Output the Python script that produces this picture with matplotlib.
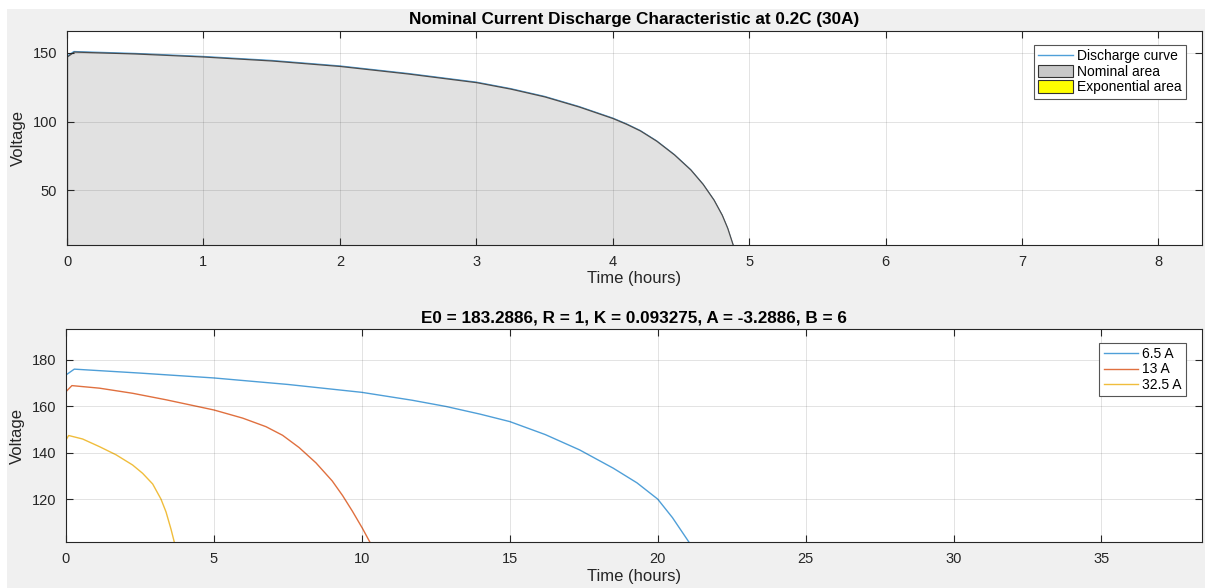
import matplotlib
matplotlib.use("Agg")
import matplotlib.pyplot as plt
from matplotlib.patches import Patch, Rectangle
from matplotlib.lines import Line2D

plt.rcParams['font.family'] = ['Liberation Sans', 'DejaVu Sans']

# top panel: nominal discharge at 0.2C (30A)
top_t = [0, 0.05, 0.5, 1.0, 1.5, 2.0, 2.5, 3.0, 3.25, 3.5, 3.75, 4.0, 4.1, 4.2, 4.32,
         4.45, 4.57, 4.66, 4.74, 4.8, 4.84, 4.88, 4.91]
top_v = [147.5, 151.0, 149.6, 147.4, 144.5, 140.5, 135.0, 128.7, 124.0, 118.3, 111.0,
         102.5, 98.3, 93.5, 86.0, 76.0, 65.0, 54.5, 43.0, 32.0, 22.5, 10.3, 3.0]
nominal_end = 4.88

# bottom panel: discharge at several currents
cur_labels = ['6.5 A', '13 A', '32.5 A']
blue_t = [0, 0.28, 2.5, 5, 7.5, 10, 11.7, 12.85, 14, 15, 16.2, 17.36, 18.5, 19.3, 20,
          20.5, 21.05]
blue_v = [173.5, 176.0, 174.3, 172.2, 169.4, 166.0, 162.6, 159.9, 156.6, 153.4, 147.8,
          141.2, 133.3, 127.0, 120.0, 112.0, 101.6]
red_t = [0, 0.2, 1.13, 2.25, 3.38, 5, 5.97, 6.76, 7.32, 7.88, 8.45, 9.0, 9.35, 9.68,
         10.02, 10.27]
red_v = [166.3, 168.9, 167.8, 165.6, 162.8, 158.4, 154.9, 151.2, 147.5, 142.2, 135.6,
         127.8, 121.5, 114.8, 107.4, 101.5]
yel_t = [0, 0.09, 0.56, 1.13, 1.69, 2.25, 2.59, 2.93, 3.21, 3.38, 3.55, 3.66]
yel_v = [145.5, 147.4, 145.9, 142.6, 139.1, 134.7, 131.1, 126.5, 120.0, 114.5, 107.0, 101.5]

c_blue = '#4f9fd8'
c_red = '#e0703f'
c_yel = '#f0bd3c'
ink = '#262626'

W, H = 1205, 588
fig = plt.figure(figsize=(W / 100, H / 100), dpi=100, facecolor='white')
fig.patches.append(Rectangle((7 / W, 0), 1, 1 - 9 / H, transform=fig.transFigure,
                             facecolor='#f0f0f0', edgecolor='none', zorder=-10))

ax1 = fig.add_axes([67 / W, (H - 245) / H, (1202 - 67) / W, 214 / H])
ax2 = fig.add_axes([66 / W, (H - 542) / H, (1202 - 66) / W, 213 / H])


def style(ax):
    ax.set_facecolor('white')
    for s in ax.spines.values():
        s.set_color(ink)
        s.set_linewidth(0.8)
    ax.tick_params(direction='in', length=5, width=0.8, colors=ink, labelsize=10.5,
                   top=True, right=True, pad=7)
    ax.grid(True, color=ink, alpha=0.15, linewidth=0.6)
    ax.set_axisbelow(False)


# top
style(ax1)
ax1.plot(top_t, top_v, color=c_blue, lw=1.0, zorder=1)
n = sum(1 for t in top_t if t <= nominal_end)
ax1.fill_between(top_t[:n], top_v[:n], 0, facecolor='#e1e1e1', edgecolor='#4d4d4d',
                 linewidth=0.9, zorder=2)
ax1.set_xlim(0, 8.32)
ax1.set_ylim(10, 166)
ax1.set_xticks(range(0, 9))
ax1.set_yticks([50, 100, 150])
ax1.set_xlabel('Time (hours)', fontsize=12, color=ink, labelpad=2)
ax1.set_ylabel('Voltage', fontsize=12, color=ink, labelpad=5)
ax1.set_title('Nominal Current Discharge Characteristic at 0.2C (30A)',
              fontsize=12.3, fontweight='bold', color='black', pad=5)
h1 = [Line2D([], [], color=c_blue, lw=1.0),
      Patch(facecolor='#c8c8c8', edgecolor='#333333', lw=0.8),
      Patch(facecolor='#ffff00', edgecolor='#333333', lw=0.8)]
leg1 = ax1.legend(h1, ['Discharge curve', 'Nominal area', 'Exponential area'],
                  loc='upper right', bbox_to_anchor=(0.986, 0.935), borderaxespad=0,
                  fontsize=10, fancybox=False, framealpha=1, edgecolor='#555555',
                  handlelength=2.5, handleheight=1.0, handletextpad=0.3,
                  labelspacing=0.12, borderpad=0.3)
leg1.get_frame().set_linewidth(0.8)

# bottom
style(ax2)
ax2.plot(blue_t, blue_v, color=c_blue, lw=1.0, label=cur_labels[0])
ax2.plot(red_t, red_v, color=c_red, lw=1.0, label=cur_labels[1])
ax2.plot(yel_t, yel_v, color=c_yel, lw=1.0, label=cur_labels[2])
ax2.set_xlim(0, 38.4)
ax2.set_ylim(101.5, 193.3)
ax2.set_xticks(range(0, 36, 5))
ax2.set_yticks([120, 140, 160, 180])
ax2.set_xlabel('Time (hours)', fontsize=12, color=ink, labelpad=2)
ax2.set_ylabel('Voltage', fontsize=12, color=ink, labelpad=5)
ax2.set_title('E0 = 183.2886, R = 1, K = 0.093275, A = -3.2886, B = 6',
              fontsize=12.3, fontweight='bold', color='black', pad=5)
leg2 = ax2.legend(loc='upper right', bbox_to_anchor=(0.986, 0.936), borderaxespad=0,
                  fontsize=10, fancybox=False, framealpha=1, edgecolor='#555555',
                  handlelength=2.5, handletextpad=0.3, labelspacing=0.12, borderpad=0.3)
leg2.get_frame().set_linewidth(0.8)

fig.savefig('out.png', dpi=100, facecolor=fig.get_facecolor())
